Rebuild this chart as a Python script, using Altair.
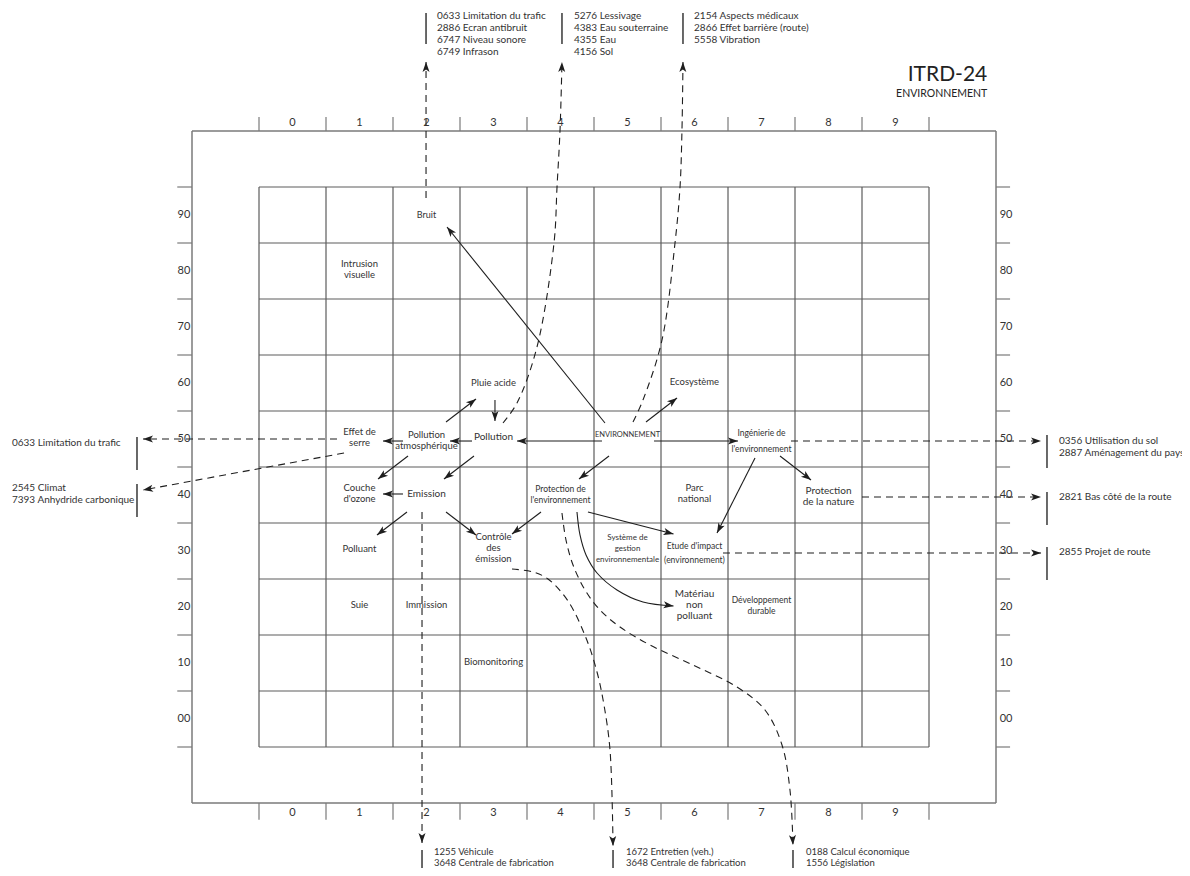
import numpy as np
import pandas as pd
import altair as alt

FONT = "Lato"
INK = "#1e1e1e"
TXT = "#333333"
GRID = "#5c5c5c"
FRAME = "#7a7a7a"

W, H = 1174, 860
# visible extent of the drawing in grid units (x: column number, y: row value)
XD = [-4.2463, 13.2761]
YD = [-26.607, 126.964]

# ---------------- data ----------------
col_labels = ["0", "1", "2", "3", "4", "5", "6", "7", "8", "9"]
col_values = [0, 1, 2, 3, 4, 5, 6, 7, 8, 9]
row_labels = ["90", "80", "70", "60", "50", "40", "30", "20", "10", "00"]
row_values = [90, 80, 70, 60, 50, 40, 30, 20, 10, 0]

concept_text = ["Bruit", "Intrusion\nvisuelle", "Pluie acide", "Ecosystème", "Effet de\nserre",
                "Pollution\natmosphérique", "Pollution", "Couche\nd'ozone", "Emission",
                "Protection de\nl'environnement", "Parc\nnational", "Protection\nde la nature",
                "Polluant", "Contrôle\ndes\némission", "Système de\ngestion\nenvironnementale",
                "Suie", "Immission", "Matériau\nnon\npolluant", "Développement\ndurable",
                "Biomonitoring"]
concept_col = [2, 1, 3, 6, 1, 2, 3, 1, 2, 4, 6, 8, 1, 3, 5, 1, 2, 6, 7, 3]
concept_row = [90, 80.3, 60, 60.2, 50.3, 49.8, 50.4, 40.3, 40.2, 40, 40.3, 39.7, 30.4, 30.5,
               30.4, 20.4, 20.4, 20.3, 20.2, 10.2]
concept_size = [9, 9.5, 9.5, 9.5, 9.5, 9.5, 10, 9.5, 10, 8.5, 9.5, 10, 9.5, 9.5, 8, 9.5, 9.5,
                10, 8.5, 9.5]

single_text = ["ENVIRONNEMENT", "Ingénierie de", "l'environnement", "Etude d'impact",
               "(environnement)"]
single_col = [5, 7, 7, 6, 6]
single_row = [50.7, 51.07, 48.21, 30.89, 28.39]
single_size = [7.5, 8.5, 8.5, 8.5, 8.5]

code_text = ["0633 Limitation du trafic\n2886 Ecran antibruit\n6747 Niveau sonore\n6749 Infrason",
             "5276 Lessivage\n4383 Eau souterraine\n4355 Eau\n4156 Sol",
             "2154 Aspects médicaux\n2866 Effet barrière (route)\n5558 Vibration",
             "0633 Limitation du trafic",
             "2545 Climat\n7393 Anhydride carbonique",
             "0356 Utilisation du sol\n2887 Aménagement du paysage",
             "2821 Bas côté de la route",
             "2855 Projet de route"]
code_x = [2.157, 4.201, 5.993, -4.187, -4.187, 11.44, 11.44, 11.44]
code_y = [125.54, 125.54, 125.54, 49.29, 41.25, 49.64, 39.64, 29.82]   # first line

bottom_text = ["1255 Véhicule\n3648 Centrale de fabrication",
               "1672 Entretien (veh.)\n3648 Centrale de fabrication",
               "0188 Calcul économique\n1556 Législation"]
bottom_x = [2.112, 4.978, 7.664]
bottom_y = [-23.75, -23.75, -23.75]   # first line

bar_x = [1.993, 4.022, 5.828, -2.321, -2.321, 11.261, 11.261, 11.261, 1.933, 4.784, 7.47]
bar_y1 = [126.07, 126.07, 126.07, 50.36, 41.96, 50.71, 40.54, 30.71, -23.39, -23.39, -23.39]
bar_y2 = [120.54, 120.54, 120.54, 44.46, 36.07, 44.82, 34.64, 24.82, -28.04, -28.04, -28.04]

# solid straight arrows: start -> tip
solid_x1 = [4.664, 5.276, 4.619, 5.396, 4.724, 3.022, 2.291, 2.679, 1.649, 1.724, 2.709, 1.649,
            1.709, 2.291, 3.709, 4.41, 6.903, 7.276]
solid_y1 = [52.86, 53.04, 49.64, 49.64, 46.96, 56.96, 53.04, 49.64, 49.64, 46.96, 46.96, 40.18,
            36.96, 36.96, 36.96, 36.96, 46.61, 46.96]
solid_x2 = [2.306, 5.739, 3.351, 6.649, 4.276, 3.022, 2.739, 2.351, 1.351, 1.276, 2.261, 1.351,
            1.261, 2.739, 3.276, 5.687, 6.336, 7.739]
solid_y2 = [87.86, 57.32, 49.64, 49.64, 42.86, 53.21, 57.14, 49.64, 49.64, 42.86, 42.86, 40.18,
            32.86, 32.86, 33.04, 33.04, 33.21, 42.68]

# dashed straight arrows: start -> tip
dash_x1 = [1.993, 0.664, 0.769, 7.44, 8.5, 6.425, 1.933]
dash_y1 = [93.04, 50.0, 47.5, 49.64, 39.64, 29.64, 36.96]
dash_x2 = [1.993, -2.231, -2.231, 11.172, 11.172, 11.172, 1.933]
dash_y2 = [117.32, 50.0, 40.89, 49.64, 39.64, 29.64, -22.14]

# curved links (points along each curve, last point = arrow tip)
curve_b_x = [3.142, 3.351, 3.649, 3.903, 3.948, 3.993, 4.022]
curve_b_y = [52.86, 56.43, 66.43, 85.0, 95.0, 105.18, 117.32]
curve_c_x = [5.082, 5.231, 5.515, 5.709, 5.784, 5.813, 5.828]
curve_c_y = [53.04, 56.96, 67.68, 85.0, 95.0, 105.18, 117.32]
curve_j_x = [3.276, 3.59, 3.813, 4.112, 4.381, 4.545, 4.649, 4.739, 4.784]
curve_j_y = [26.79, 26.25, 25.0, 21.07, 14.46, 8.39, 2.5, -5.54, -22.68]
curve_k_x = [4.022, 4.082, 4.187, 4.366, 4.59, 4.888, 5.336, 5.978, 6.634, 7.052, 7.306, 7.425, 7.47]
curve_k_y = [36.79, 31.96, 27.5, 23.04, 19.46, 16.43, 13.21, 9.64, 5.71, 1.61, -4.64, -12.68, -22.5]
curve_m_x = [4.246, 4.291, 4.381, 4.545, 4.843, 5.231, 5.687]
curve_m_y = [36.96, 32.86, 29.29, 26.07, 23.04, 20.89, 20.18]

title_main = "ITRD-24"
title_sub = "ENVIRONNEMENT"

# ---------------- structure ----------------
col_edges = [c - 0.5 for c in col_values] + [col_values[-1] + 0.5]
row_edges = [r - 5 for r in sorted(row_values)] + [max(row_values) + 5]
frame_x = [col_edges[0] - 1, col_edges[-1] + 1]
frame_y = [row_edges[0] - 10, row_edges[-1] + 10]

kx = W / (XD[1] - XD[0])
ky = H / (YD[1] - YD[0])

X = lambda f="x": alt.X(f"{f}:Q", scale=alt.Scale(domain=XD, nice=False, zero=False), axis=None)
Y = lambda f="y": alt.Y(f"{f}:Q", scale=alt.Scale(domain=YD, nice=False, zero=False), axis=None)


def rules(df, color, width, dash=None):
    kw = dict(color=color, strokeWidth=width)
    if dash:
        kw["strokeDash"] = dash
    return alt.Chart(df).mark_rule(**kw).encode(x=X("x"), y=Y("y"), x2="x2:Q", y2="y2:Q")


def angle(x1, y1, x2, y2):
    a = np.degrees(np.arctan2((np.asarray(x2) - np.asarray(x1)) * kx,
                              (np.asarray(y2) - np.asarray(y1)) * ky))
    return (a + 360) % 360


# grid
grid_rows = []
for e in col_edges:
    grid_rows.append(dict(x=e, x2=e, y=row_edges[0], y2=row_edges[-1]))
for e in row_edges:
    grid_rows.append(dict(x=col_edges[0], x2=col_edges[-1], y=e, y2=e))
grid_df = pd.DataFrame(grid_rows)

frame_df = pd.DataFrame([
    dict(x=frame_x[0], x2=frame_x[1], y=frame_y[0], y2=frame_y[0]),
    dict(x=frame_x[0], x2=frame_x[1], y=frame_y[1], y2=frame_y[1]),
    dict(x=frame_x[0], x2=frame_x[0], y=frame_y[0], y2=frame_y[1]),
    dict(x=frame_x[1], x2=frame_x[1], y=frame_y[0], y2=frame_y[1]),
])

tick_rows = []
for e in col_edges:
    tick_rows.append(dict(x=e, x2=e, y=frame_y[1], y2=frame_y[1] + 2.5))
    tick_rows.append(dict(x=e, x2=e, y=frame_y[0], y2=frame_y[0] - 3.0))
for e in row_edges:
    tick_rows.append(dict(x=frame_x[0], x2=frame_x[0] - 0.22, y=e, y2=e))
    tick_rows.append(dict(x=frame_x[1], x2=frame_x[1] + 0.21, y=e, y2=e))
tick_df = pd.DataFrame(tick_rows)

axis_lab = pd.DataFrame(
    [dict(x=c, y=frame_y[1] + 1.43, t=l) for c, l in zip(col_values, col_labels)]
    + [dict(x=c, y=frame_y[0] - 1.79, t=l) for c, l in zip(col_values, col_labels)]
    + [dict(x=frame_x[0] - 0.12, y=r, t=l) for r, l in zip(row_values, row_labels)]
    + [dict(x=frame_x[1] + 0.15, y=r, t=l) for r, l in zip(row_values, row_labels)]
)

bars_df = pd.DataFrame(dict(x=bar_x, x2=bar_x, y=bar_y1, y2=bar_y2))

solid_df = pd.DataFrame(dict(x=solid_x1, y=solid_y1, x2=solid_x2, y2=solid_y2))
dash_df = pd.DataFrame(dict(x=dash_x1, y=dash_y1, x2=dash_x2, y2=dash_y2))

dashed_curves = [(curve_b_x, curve_b_y), (curve_c_x, curve_c_y), (curve_j_x, curve_j_y),
                 (curve_k_x, curve_k_y)]
solid_curves = [(curve_m_x, curve_m_y)]


def curve_df(curves):
    rows = []
    for i, (cx, cy) in enumerate(curves):
        for j, (a, b) in enumerate(zip(cx, cy)):
            rows.append(dict(id=i, seq=j, x=a, y=b))
    return pd.DataFrame(rows)


dcurve_df = curve_df(dashed_curves)
scurve_df = curve_df(solid_curves)

# arrow heads
hx, hy, ha = [], [], []
for df in (solid_df, dash_df):
    hx += list(df.x2)
    hy += list(df.y2)
    ha += list(angle(df.x, df.y, df.x2, df.y2))
for cx, cy in dashed_curves + solid_curves:
    hx.append(cx[-1])
    hy.append(cy[-1])
    ha.append(float(angle(cx[-2], cy[-2], cx[-1], cy[-1])))
heads_df = pd.DataFrame(dict(x=hx, y=hy, angle=ha))

ARROW = "M0,0L0.7,2L0,1.5L-0.7,2Z"

LH = 11  # line height of cell labels (px)
# Vega draws the first line at y and the following ones below: shift block so it is centred
concept_first = [r + (t.count("\n")) * LH / 2 / ky for r, t in zip(concept_row, concept_text)]
concept_df = pd.DataFrame(dict(x=concept_col, y=concept_first, t=concept_text, s=concept_size))
single_df = pd.DataFrame(dict(x=single_col, y=single_row, t=single_text, s=single_size))
code_df = pd.DataFrame(dict(x=code_x, y=code_y, t=code_text))
bottom_df = pd.DataFrame(dict(x=bottom_x, y=bottom_y, t=bottom_text))
title_df = pd.DataFrame(dict(x=[frame_x[1] - 0.13, frame_x[1] - 0.13],
                             y=[frame_y[1] + 10.0, frame_y[1] + 6.6],
                             t=[title_main, title_sub], s=[21, 10.5]))

# ---------------- layers ----------------
layers = [
    rules(grid_df, GRID, 1.2),
    rules(frame_df, FRAME, 1.5),
    rules(tick_df, FRAME, 1.2),
    rules(bars_df, "#444444", 1.6),
    rules(solid_df, INK, 1.1),
    rules(dash_df, INK, 1.1, [7, 5]),
    alt.Chart(dcurve_df).mark_line(color=INK, strokeWidth=1.1, strokeDash=[7, 5],
                                   interpolate="catmull-rom").encode(
        x=X("x"), y=Y("y"), detail="id:N", order="seq:Q"),
    alt.Chart(scurve_df).mark_line(color=INK, strokeWidth=1.1,
                                   interpolate="catmull-rom").encode(
        x=X("x"), y=Y("y"), detail="id:N", order="seq:Q"),
    alt.Chart(heads_df).mark_point(shape=ARROW, filled=True, size=100, color=INK, opacity=1,
                                   strokeWidth=0).encode(
        x=X("x"), y=Y("y"), angle=alt.Angle("angle:Q", scale=None)),
    alt.Chart(axis_lab).mark_text(font=FONT, fontSize=11, color=TXT, align="center",
                                  baseline="middle").encode(x=X("x"), y=Y("y"), text="t:N"),
    alt.Chart(concept_df).mark_text(font=FONT, color=TXT, align="center", baseline="middle",
                                    lineBreak="\n", lineHeight=LH).encode(
        x=X("x"), y=Y("y"), text="t:N", size=alt.Size("s:Q", scale=None)),
    alt.Chart(single_df).mark_text(font=FONT, color=TXT, align="center",
                                   baseline="middle").encode(
        x=X("x"), y=Y("y"), text="t:N", size=alt.Size("s:Q", scale=None)),
    alt.Chart(code_df).mark_text(font=FONT, fontSize=10, color=TXT, align="left",
                                 baseline="middle", lineBreak="\n", lineHeight=12).encode(
        x=X("x"), y=Y("y"), text="t:N"),
    alt.Chart(bottom_df).mark_text(font=FONT, fontSize=9.5, color=TXT, align="left",
                                   baseline="middle", lineBreak="\n", lineHeight=10.5).encode(
        x=X("x"), y=Y("y"), text="t:N"),
    alt.Chart(title_df).mark_text(font=FONT, color="#222222", align="right",
                                  baseline="middle").encode(
        x=X("x"), y=Y("y"), text="t:N", size=alt.Size("s:Q", scale=None)),
]

chart = alt.layer(*layers).properties(
    width=W, height=H, padding=0, autosize=alt.AutoSizeParams(type="none"),
    background="white",
).configure_view(stroke=None)

chart.save("out.html", embed_options={"renderer": "svg", "actions": False})
